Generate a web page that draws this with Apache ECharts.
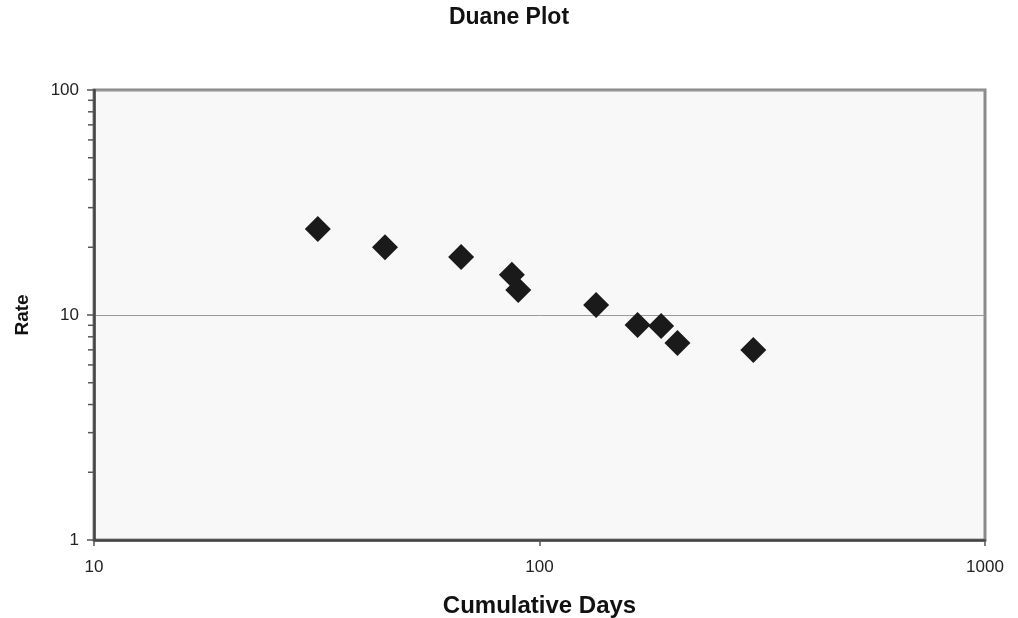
<!DOCTYPE html>
<html>
<head>
<meta charset="utf-8">
<script src="https://cdn.jsdelivr.net/npm/echarts@6/dist/echarts.min.js"></script>
<style>html,body{margin:0;padding:0;background:#fff;}#c{width:1018px;height:618px;}</style>
</head>
<body>
<div id="c"></div>
<script>
var cumulativeDays = [31.8, 45.0, 66.7, 86.7, 89.6, 134, 166, 187.5, 204, 302];
var rates = [24.1, 20.0, 18.1, 15.1, 12.9, 11.07, 9.03, 8.93, 7.51, 6.99];
var xTicks = [10, 100, 1000];
var yTicks = [1, 10, 100];
var yMinorTicks = [2, 3, 4, 5, 6, 7, 8, 9, 20, 30, 40, 50, 60, 70, 80, 90];

var points = cumulativeDays.map(function (d, i) { return [d, rates[i]]; });
var fontFam = '"Liberation Sans", Arial, sans-serif';

var chart = echarts.init(document.getElementById('c'));
chart.setOption({
  animation: false,
  backgroundColor: '#ffffff',
  title: {
    text: 'Duane Plot',
    left: 'center',
    top: 1,
    textStyle: { fontFamily: fontFam, fontSize: 23, fontWeight: 'bold', color: '#111' }
  },
  grid: {
    left: 94, right: 33, top: 90, bottom: 78,
    outerBoundsMode: 'none',
    containLabel: false,
    show: true,
    backgroundColor: '#f8f8f8',
    borderColor: '#8a8a8a',
    borderWidth: 3
  },
  xAxis: {
    type: 'log',
    logBase: 10,
    min: 10,
    max: 1000,
    name: 'Cumulative Days',
    nameLocation: 'middle',
    nameGap: 54,
    nameTextStyle: { fontFamily: fontFam, fontSize: 24, fontWeight: 'bold', color: '#111' },
    axisLine: { show: true, lineStyle: { color: '#444', width: 2.5 } },
    axisTick: { show: true, length: 6, lineStyle: { color: '#555', width: 1.5 } },
    axisLabel: {
      margin: 19, fontFamily: fontFam, fontSize: 17, color: '#222',
      formatter: function (v) { return xTicks.indexOf(Math.round(v)) >= 0 ? String(Math.round(v)) : ''; }
    },
    splitLine: { show: false },
    minorTick: { show: false }
  },
  yAxis: {
    type: 'log',
    logBase: 10,
    min: 1,
    max: 100,
    name: 'Rate',
    nameLocation: 'middle',
    nameGap: 62,
    nameRotate: 90,
    nameTextStyle: { fontFamily: fontFam, fontSize: 19, fontWeight: 'bold', color: '#111' },
    axisLine: { show: true, lineStyle: { color: '#444', width: 2.5 } },
    axisTick: { show: true, length: 7, lineStyle: { color: '#555', width: 1.5 } },
    axisLabel: {
      margin: 15, fontFamily: fontFam, fontSize: 17, color: '#222',
      formatter: function (v) { return yTicks.indexOf(Math.round(v)) >= 0 ? String(Math.round(v)) : ''; }
    },
    splitLine: { show: true, lineStyle: { color: '#999', width: 1 } },
    minorTick: { show: false }
  },
  series: [
    {
      type: 'custom',
      silent: true,
      clip: false,
      data: yMinorTicks.map(function (v) { return [10, v]; }),
      renderItem: function (params, api) {
        var p = api.coord([api.value(0), api.value(1)]);
        return {
          type: 'line',
          shape: { x1: p[0] - 6, y1: p[1], x2: p[0], y2: p[1] },
          style: { stroke: '#555', lineWidth: 1.5 }
        };
      },
      z: 1
    },
    {
      type: 'scatter',
      data: points,
      symbol: 'diamond',
      symbolSize: [26, 26],
      itemStyle: { color: '#1a1a1a', opacity: 1 },
      z: 3
    }
  ]
});
</script>
</body>
</html>
